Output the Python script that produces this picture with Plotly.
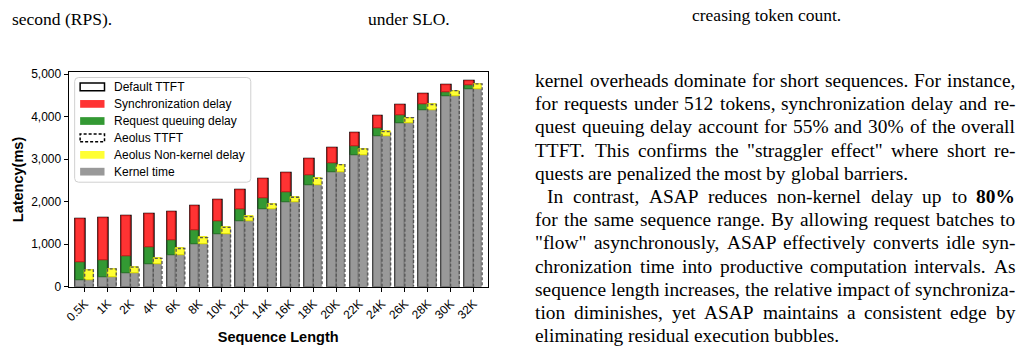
import plotly.graph_objects as go

# ---------------- data ----------------
categories = ["0.5K", "1K", "2K", "4K", "6K", "8K", "10K", "12K", "14K", "16K",
              "18K", "20K", "22K", "24K", "26K", "28K", "30K", "32K"]
kernel_time = [150, 215, 330, 540, 740, 1005, 1230, 1535, 1830, 1990,
               2400, 2695, 3100, 3540, 3845, 4150, 4480, 4650]
queue_delay = [430, 415, 385, 380, 360, 325, 310, 280, 265, 245,
               225, 220, 200, 190, 180, 150, 100, 85]
sync_delay = [1015, 985, 950, 795, 665, 560, 500, 465, 430, 425,
              380, 340, 300, 275, 240, 220, 150, 90]
aeolus_nonkernel = [250, 205, 135, 130, 160, 150, 165, 115, 115, 115,
                    150, 175, 140, 110, 130, 135, 130, 120]

legend_labels = ["Default TTFT", "Synchronization delay", "Request queuing delay",
                 "Aeolus TTFT", "Aeolus Non-kernel delay", "Kernel time"]

body_lines = [
    "kernel overheads dominate for short sequences. For instance,",
    "for requests under 512 tokens, synchronization delay and re-",
    "quest queuing delay account for 55% and 30% of the overall",
    "TTFT. This confirms the \"straggler effect\" where short re-",
    "quests are penalized the most by global barriers.",
    "In contrast, ASAP reduces non-kernel delay up to <b>80%</b>",
    "for the same sequence range. By allowing request batches to",
    "\"flow\" asynchronously, ASAP effectively converts idle syn-",
    "chronization time into productive computation intervals. As",
    "sequence length increases, the relative impact of synchroniza-",
    "tion diminishes, yet ASAP maintains a consistent edge by",
    "eliminating residual execution bubbles.",
]
paragraph_ends = {4, 11}
caption_fragments = ["second (RPS).", "under SLO.", "creasing token count."]

# ---------------- styling ----------------
W_PX, H_PX = 1023, 361
RED, GREEN, GRAY, YELLOW = "#ff3333", "#339933", "#999999", "#ffff33"
BAR_W = 0.38
SANS = "Liberation Sans, Arial, sans-serif"
SERIF = "Liberation Serif, Times New Roman, serif"
BODY_SIZE = 19.4

def px(x):
    return x / W_PX

def py(y):
    return 1 - y / H_PX

# Times-Roman advance widths (1/1000 em) for justified layout of body text
_TW = {" ": 250, "!": 333, '"': 408, "%": 833, "(": 333, ")": 333, ",": 250, "-": 333,
       ".": 250, ":": 278, ";": 278}
for c in "0123456789":
    _TW[c] = 500
_TW.update(dict(zip("ABCDEFGHIJKLMNOPQRSTUVWXYZ",
                    [722, 667, 667, 722, 611, 556, 722, 722, 333, 389, 722, 611, 889, 722, 722,
                     556, 722, 667, 556, 611, 722, 722, 944, 722, 722, 611])))
_TW.update(dict(zip("abcdefghijklmnopqrstuvwxyz",
                    [444, 500, 444, 500, 444, 333, 500, 500, 278, 278, 500, 278, 778, 500, 500,
                     500, 500, 333, 389, 278, 500, 500, 722, 500, 500, 444])))
_TWB = {"8": 500, "0": 500, "%": 1000}

def word_width(w):
    if w.startswith("<b>"):
        inner = w.replace("<b>", "").replace("</b>", "")
        return sum(_TWB.get(c, 500) for c in inner) / 1000 * BODY_SIZE
    return sum(_TW.get(c, 500) for c in w) / 1000 * BODY_SIZE

xs = list(range(len(categories)))
queue_base = kernel_time
sync_base = [k + q for k, q in zip(kernel_time, queue_delay)]
default_total = [b + s for b, s in zip(sync_base, sync_delay)]
aeolus_total = [k + a for k, a in zip(kernel_time, aeolus_nonkernel)]

fig = go.Figure()

fig.add_trace(go.Bar(x=xs, y=default_total, width=BAR_W, offset=-BAR_W,
                     marker=dict(color="rgba(0,0,0,0)", line=dict(color="black", width=2.5)),
                     name=legend_labels[0], showlegend=False))
fig.add_trace(go.Bar(x=xs, y=kernel_time, width=BAR_W, offset=-BAR_W,
                     marker=dict(color=GRAY, line=dict(color="#7a7a7a", width=1)),
                     name=legend_labels[5], showlegend=False))
fig.add_trace(go.Bar(x=xs, y=queue_delay, base=queue_base, width=BAR_W, offset=-BAR_W,
                     marker=dict(color=GREEN, line=dict(color="#267326", width=1)),
                     name=legend_labels[2], showlegend=False))
fig.add_trace(go.Bar(x=xs, y=sync_delay, base=sync_base, width=BAR_W, offset=-BAR_W,
                     marker=dict(color=RED, line=dict(color="#cc1a1a", width=1)),
                     name=legend_labels[1], showlegend=False))
fig.add_trace(go.Bar(x=xs, y=kernel_time, width=BAR_W, offset=0,
                     marker=dict(color=GRAY, line=dict(color="#7a7a7a", width=1)),
                     name="Aeolus kernel", showlegend=False))
fig.add_trace(go.Bar(x=xs, y=aeolus_nonkernel, base=kernel_time, width=BAR_W, offset=0,
                     marker=dict(color=YELLOW, line=dict(color="#e0e000", width=1)),
                     name=legend_labels[4], showlegend=False))
ox, oy = [], []
for xi, top in zip(xs, aeolus_total):
    ox += [xi, xi, xi + BAR_W, xi + BAR_W, None]
    oy += [0, top, top, 0, None]
fig.add_trace(go.Scatter(x=ox, y=oy, mode="lines",
                         line=dict(color="#555555", width=1.3, dash="3px,2px"),
                         name=legend_labels[3], showlegend=False, hoverinfo="skip"))

# ---------------- legend ----------------
shapes = []
x0, x1, y0, y1, r = 70, 247, 75, 183.3, 4
path = (f"M{px(x0+r)},{py(y0)} L{px(x1-r)},{py(y0)} Q{px(x1)},{py(y0)} {px(x1)},{py(y0+r)} "
        f"L{px(x1)},{py(y1-r)} Q{px(x1)},{py(y1)} {px(x1-r)},{py(y1)} "
        f"L{px(x0+r)},{py(y1)} Q{px(x0)},{py(y1)} {px(x0)},{py(y1-r)} "
        f"L{px(x0)},{py(y0+r)} Q{px(x0)},{py(y0)} {px(x0+r)},{py(y0)} Z")
shapes.append(dict(type="path", xref="paper", yref="paper", path=path,
                   fillcolor="rgba(255,255,255,0.85)", line=dict(color="#d0d0d0", width=1)))
entry_y = [84.7, 102.3, 120.0, 137.5, 155.0, 172.4]
handle_styles = [
    dict(fillcolor="white", line=dict(color="black", width=1.5)),
    dict(fillcolor=RED, line=dict(color=RED, width=0)),
    dict(fillcolor=GREEN, line=dict(color=GREEN, width=0)),
    dict(fillcolor="white", line=dict(color="black", width=1.5, dash="3px,2px")),
    dict(fillcolor=YELLOW, line=dict(color=YELLOW, width=0)),
    dict(fillcolor=GRAY, line=dict(color=GRAY, width=0)),
]
annotations = []
for ey, lab, st in zip(entry_y, legend_labels, handle_styles):
    shapes.append(dict(type="rect", xref="paper", yref="paper",
                       x0=px(75.5), x1=px(100), y0=py(ey + 4), y1=py(ey - 4), **st))
    annotations.append(dict(x=px(108), y=py(ey), xref="paper", yref="paper", text=lab,
                            showarrow=False, xanchor="left", yanchor="middle",
                            font=dict(family=SANS, size=12, color="black")))

# ---------------- surrounding page text (justified column) ----------------
COL_L, COL_R, INDENT = 533, 1015, 12
line_y0 = 78
for i, line in enumerate(body_lines):
    left = COL_L + (INDENT if line.startswith("In contrast") else 0)
    words = line.split(" ")
    widths = [word_width(w) for w in words]
    space = _TW[" "] / 1000 * BODY_SIZE
    if i in paragraph_ends:
        gap = space
    else:
        gap = (COL_R - left - sum(widths)) / (len(words) - 1)
    xpos = left
    for w, wd in zip(words, widths):
        annotations.append(dict(x=px(xpos - 2), y=py(line_y0 + 24 * i), xref="paper", yref="paper",
                                text=w, showarrow=False, xanchor="left", yanchor="middle",
                                font=dict(family=SERIF, size=BODY_SIZE, color="black")))
        xpos += wd + gap
for txt, xl, yc in zip(caption_fragments, [7, 365, 690], [14, 14, 10]):
    annotations.append(dict(x=px(xl - 2), y=py(yc), xref="paper", yref="paper", text=txt,
                            showarrow=False, xanchor="left", yanchor="middle",
                            font=dict(family=SERIF, size=17.5, color="black")))

fig.update_layout(
    width=W_PX, height=H_PX,
    margin=dict(l=0, r=0, t=0, b=0),
    paper_bgcolor="white", plot_bgcolor="white",
    barmode="overlay", bargap=0,
    shapes=shapes, annotations=annotations,
    showlegend=False,
    xaxis=dict(domain=[px(64), px(485)], range=[-0.7, 17.62],
               tickmode="array", tickvals=xs, ticktext=categories, tickangle=-45,
               showline=True, mirror=True, linecolor="black", linewidth=1.2,
               ticks="outside", ticklen=4, tickcolor="black", showgrid=False, zeroline=False,
               tickfont=dict(family=SANS, size=12, color="black"),
               title=dict(text="<b>Sequence Length</b>", standoff=8,
                          font=dict(family=SANS, size=14.5, color="black"))),
    yaxis=dict(domain=[py(291.5), py(69.5)], range=[0, 5045],
               tickvals=[0, 1000, 2000, 3000, 4000, 5000], tickformat=",",
               showline=True, mirror=True, linecolor="black", linewidth=1.2,
               ticks="outside", ticklen=4, tickcolor="black", showgrid=False, zeroline=False,
               tickfont=dict(family=SANS, size=12, color="black"),
               title=dict(text="<b>Latency(ms)</b>", standoff=4,
                          font=dict(family=SANS, size=14.5, color="black"))),
)

fig.write_html("out.html")
